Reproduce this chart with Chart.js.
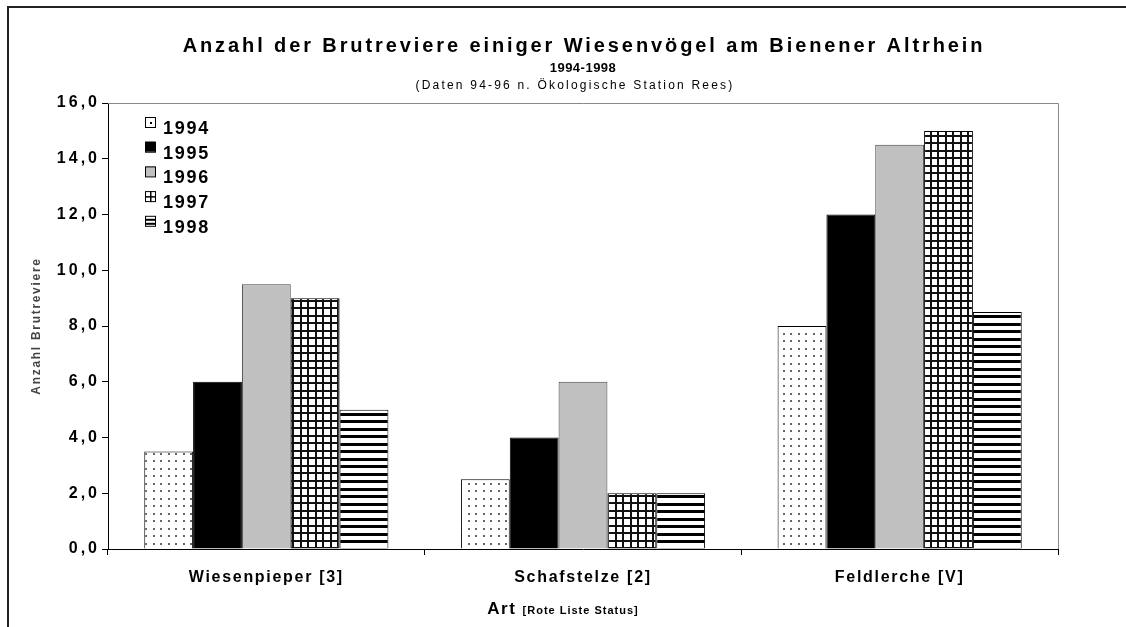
<!DOCTYPE html>
<html>
<head>
<meta charset="utf-8">
<script src="https://cdn.jsdelivr.net/npm/chart.js@4.4.1/dist/chart.umd.min.js"></script>
<style>
  html, body { margin: 0; padding: 0; background: #fff; }
  canvas { display: block; }
</style>
</head>
<body>
<canvas id="chart" width="1126" height="627"></canvas>
<script>
// species on the x axis, with Rote Liste status
const species = ['Wiesenpieper [3]', 'Schafstelze [2]', 'Feldlerche [V]'];
const years = ['1994', '1995', '1996', '1997', '1998'];

// Anzahl Brutreviere per year
const v1994 = [3.5, 2.5, 8];
const v1995 = [6, 4, 12];
const v1996 = [9.5, 6, 14.5];
const v1997 = [9, 2, 15];
const v1998 = [5, 2, 8.5];

const yMin = 0;
const yMax = 16;
const yStep = 2;

const titleText = 'Anzahl der Brutreviere einiger Wiesenvögel am Bienener Altrhein';
const subTitle1 = '1994-1998';
const subTitle2 = '(Daten 94-96 n. Ökologische Station Rees)';
const yTitle = 'Anzahl Brutreviere';
const xTitleMain = 'Art';
const xTitleSmall = '[Rote Liste Status]';

const FONT = '"Liberation Sans", Arial, sans-serif';
const canvas = document.getElementById('chart');
const ctx = canvas.getContext('2d');

function makePattern(draw) {
  const c = document.createElement('canvas');
  c.width = 15; c.height = 15;
  const g = c.getContext('2d');
  g.fillStyle = '#fff';
  g.fillRect(0, 0, 15, 15);
  draw(g);
  return ctx.createPattern(c, 'repeat');
}

// dotted, solid black, grey, grid, horizontal stripes
const dotFill = makePattern(g => {
  g.fillStyle = '#666';
  [[3, 3], [10, 3], [3, 10], [10, 10]].forEach(p => g.fillRect(p[0], p[1], 2, 2));
});
const gridFill = makePattern(g => {
  g.fillStyle = '#111';
  g.fillRect(0, 0, 2, 15); g.fillRect(7, 0, 2, 15);
  g.fillRect(0, 0, 15, 2); g.fillRect(0, 7, 15, 2);
});
const stripeFill = makePattern(g => {
  g.fillStyle = '#000';
  g.fillRect(0, 0, 15, 3); g.fillRect(0, 8, 15, 3);
});

const fills = [dotFill, '#000000', '#c0c0c0', gridFill, stripeFill];
const values = [v1994, v1995, v1996, v1997, v1998];

function spaced(c, text, x, y, spacing) {
  c.save();
  c.letterSpacing = spacing + 'px';
  c.fillText(text, x, y);
  c.restore();
}

// letter spacing for tick labels (the stretched old Excel look);
// y tick labels are drawn after the datasets (ticks.z: 1) so they get their own spacing
const tickSpacing = {
  id: 'tickSpacing',
  beforeUpdate(chart) { chart.ctx.letterSpacing = '1.7px'; },
  beforeDraw(chart) { chart.ctx.letterSpacing = '1.7px'; },
  afterDatasetsDraw(chart) { chart.ctx.letterSpacing = '3px'; }
};

const decorations = {
  id: 'decorations',
  afterDraw(chart) {
    const c = chart.ctx;
    const a = chart.chartArea;
    const cx = (a.left + a.right) / 2;
    c.save();
    c.letterSpacing = '0px';

    // outer frame
    c.strokeStyle = '#222';
    c.lineWidth = 2;
    c.beginPath();
    c.moveTo(8, chart.height);
    c.lineTo(8, 7);
    c.lineTo(chart.width, 7);
    c.stroke();

    // plot area border top / right
    c.strokeStyle = '#888';
    c.lineWidth = 1;
    c.beginPath();
    c.moveTo(a.left, a.top + 0.5);
    c.lineTo(a.right + 0.5, a.top + 0.5);
    c.lineTo(a.right + 0.5, a.bottom);
    c.stroke();

    // titles
    c.fillStyle = '#000';
    c.textAlign = 'center';
    c.textBaseline = 'middle';
    c.font = 'bold 20px ' + FONT;
    spaced(c, titleText, cx + 1, 46, 2.9);
    c.font = 'bold 13px ' + FONT;
    spaced(c, subTitle1, cx, 68, 0.5);
    c.font = '12px ' + FONT;
    spaced(c, subTitle2, cx - 8, 86, 2.2);

    // x axis title, two sizes
    c.textAlign = 'left';
    c.textBaseline = 'alphabetic';
    c.font = 'bold 17px ' + FONT;
    c.letterSpacing = '1.5px';
    const w1 = c.measureText(xTitleMain + ' ').width;
    c.font = 'bold 11px ' + FONT;
    c.letterSpacing = '1px';
    const w2 = c.measureText(xTitleSmall).width;
    const x0 = cx - 20 - (w1 + w2) / 2;
    c.font = 'bold 17px ' + FONT;
    spaced(c, xTitleMain, x0, 614, 1.5);
    c.font = 'bold 11px ' + FONT;
    spaced(c, xTitleSmall, x0 + w1, 614, 1);

    // legend inside plot area
    const lx = a.left + 37;
    chart.data.datasets.forEach((ds, i) => {
      const y = a.top + 14 + i * 24.7;
      c.fillStyle = i === 1 ? '#000' : (i === 2 ? '#c0c0c0' : '#fff');
      c.fillRect(lx, y, 10, 10);
      c.strokeStyle = '#000';
      c.lineWidth = 1;
      c.strokeRect(lx + 0.5, y + 0.5, 10, 10);
      c.fillStyle = '#000';
      if (i === 0) c.fillRect(lx + 5, y + 5, 2, 2);
      if (i === 3) {
        c.fillRect(lx, y + 5, 11, 1.5);
        c.fillRect(lx + 5, y, 1.5, 11);
      }
      if (i === 4) {
        c.fillRect(lx, y + 3, 11, 2);
        c.fillRect(lx, y + 7, 11, 2);
      }
      c.font = 'bold 18px ' + FONT;
      c.textAlign = 'left';
      c.textBaseline = 'alphabetic';
      spaced(c, ds.label, lx + 18, y + 17, 1.7);
    });
    c.restore();
  }
};

new Chart(ctx, {
  type: 'bar',
  data: {
    labels: species,
    datasets: years.map((yr, i) => ({
      label: yr,
      data: values[i],
      backgroundColor: fills[i],
      borderColor: i === 2 ? '#444' : '#000',
      borderWidth: 1,
      categoryPercentage: 0.771,
      barPercentage: 1.0
    }))
  },
  options: {
    responsive: false,
    animation: false,
    layout: { padding: { top: 103, right: 68, left: 0, bottom: 0 } },
    plugins: {
      legend: { display: false },
      tooltip: { enabled: false }
    },
    scales: {
      x: {
        grid: { drawOnChartArea: false, color: '#000', tickLength: 6, offset: true },
        border: { color: '#000', width: 1 },
        ticks: { color: '#000', font: { family: FONT, size: 16, weight: 'bold' }, padding: 13 },
        afterFit(scale) { scale.height = 78; }
      },
      y: {
        min: yMin,
        max: yMax,
        ticks: {
          z: 1,
          stepSize: yStep,
          color: '#000',
          font: { family: FONT, size: 16, weight: 'bold' },
          padding: 2,
          callback: v => v.toFixed(1).replace('.', ',')
        },
        grid: { drawOnChartArea: false, color: '#000', tickLength: 6 },
        border: { color: '#000', width: 1 },
        title: {
          display: true,
          text: yTitle,
          color: '#444',
          font: { family: FONT, size: 12, weight: 'bold' },
          padding: { top: 29, bottom: 0 }
        },
        afterFit(scale) { scale.width = 108; }
      }
    }
  },
  plugins: [tickSpacing, decorations]
});
</script>
</body>
</html>
